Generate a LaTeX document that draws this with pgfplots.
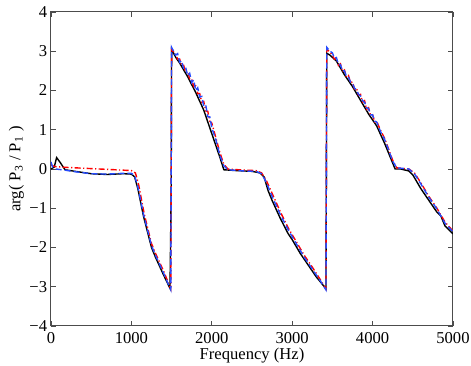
\documentclass[border=0pt]{standalone}
\usepackage{fontspec}
\setmainfont{Liberation Serif}
\usepackage{pgfplots}
\pgfplotsset{compat=1.18}
\definecolor{mblue}{rgb}{0.15,0.3,1}
\definecolor{axgray}{gray}{0.3}

\begin{document}
\fontsize{8.3}{10}\selectfont
\begin{tikzpicture}
\begin{axis}[
  name=ax,
  scale only axis,
  width=201pt, height=157pt,
  xmin=0, xmax=5000, ymin=-4, ymax=4,
  xtick={0,1000,2000,3000,4000,5000},
  xticklabels={0,1000,2000,3000,4000,5000},
  ytick={-4,-3,-2,-1,0,1,2,3,4},
  yticklabels={−4,−3,−2,−1,0,1,2,3,4},
  scaled x ticks=false,
  tick align=inside,
  tick pos=both,
  major tick length=2.5pt,
  axis line style={axgray, line width=0.5pt},
  every tick/.style={axgray, line width=0.4pt},
  tick label style={font=\fontsize{8.3}{10}\selectfont},
  xticklabel style={yshift=-0.5pt},
  yticklabel style={xshift=1pt},
  xlabel={Frequency (Hz)},
  ylabel={arg( P\textsubscript{3} / P\textsubscript{1} )},
  label style={font=\fontsize{8.3}{10}\selectfont},
  xlabel style={yshift=4pt},
  ylabel style={yshift=-3pt},
]
% black solid
\addplot[black, line width=0.7pt] coordinates {
(0,0.0)(40,0.05)(70,0.29)(120,0.15)(175,-0.02)(300,-0.06)(500,-0.12)(700,-0.14)
(900,-0.12)(1000,-0.13)(1040,-0.2)(1080,-0.5)(1150,-1.2)(1250,-2.0)(1300,-2.25)
(1400,-2.7)(1480,-3.04)(1488,-1.75)(1495,-0.5)(1500,3.05)(1550,2.85)(1600,2.7)
(1700,2.35)(1800,1.95)(1900,1.5)(2000,0.9)(2050,0.6)(2100,0.3)(2150,-0.02)
(2300,-0.04)(2500,-0.06)(2600,-0.1)(2650,-0.2)(2700,-0.55)(2750,-0.8)(2850,-1.25)
(2950,-1.65)(3000,-1.8)(3100,-2.15)(3200,-2.45)(3300,-2.75)(3420,-3.05)(3430,2.95)
(3470,2.9)(3550,2.75)(3650,2.4)(3750,2.1)(3850,1.75)(3950,1.4)(4050,1.1)(4150,0.65)
(4200,0.4)(4280,0.0)(4350,0.0)(4450,-0.05)(4500,-0.15)(4600,-0.5)(4700,-0.8)
(4800,-1.1)(4850,-1.2)(4900,-1.45)(4950,-1.55)(5000,-1.65)
};
% red dash-dot
\addplot[red, line width=0.7pt, dash pattern=on 3pt off 1.2pt on 0.6pt off 1.2pt] coordinates {
(0,0.1)(50,0.06)(200,0.04)(400,0.02)(600,0.0)(800,-0.02)(1000,-0.04)(1050,-0.1)
(1090,-0.4)(1160,-1.15)(1250,-1.9)(1300,-2.15)(1400,-2.6)(1490,-3.05)(1500,3.05)
(1550,2.92)(1575,2.8)(1600,2.8)(1625,2.64)(1650,2.64)(1675,2.46)(1700,2.48)
(1725,2.3)(1750,2.3)(1775,2.1)(1800,2.12)(1825,1.92)(1850,1.92)(1875,1.7)
(1900,1.72)(1925,1.48)(1950,1.47)(1975,1.22)(2000,1.17)(2050,0.8)(2100,0.42)
(2150,0.12)(2200,0.0)(2400,-0.03)(2550,-0.04)(2620,-0.1)(2680,-0.3)(2750,-0.62)
(2850,-1.08)(2950,-1.5)(3050,-1.85)(3150,-2.2)(3250,-2.5)(3350,-2.82)(3420,-3.05)
(3430,3.05)(3470,2.98)(3500,2.9)(3525,2.8)(3550,2.82)(3575,2.64)(3600,2.68)
(3625,2.48)(3650,2.52)(3675,2.34)(3700,2.38)(3725,2.2)(3750,2.22)(3775,2.04)
(3800,2.06)(3825,1.88)(3850,1.9)(3875,1.7)(3900,1.74)(3925,1.52)(3950,1.56)
(3975,1.36)(4000,1.38)(4025,1.2)(4050,1.22)(4100,0.98)(4150,0.78)(4200,0.5)
(4250,0.22)(4300,0.03)(4450,0.0)(4520,-0.1)(4600,-0.35)(4700,-0.7)(4800,-1.0)
(4900,-1.35)(5000,-1.58)
};
% blue dashed
\addplot[mblue, line width=0.7pt, dash pattern=on 3pt off 1.5pt] coordinates {
(0,0.18)(20,0.05)(60,0.0)(175,-0.03)(300,-0.07)(500,-0.12)(700,-0.13)(900,-0.11)
(1000,-0.11)(1040,-0.17)(1080,-0.45)(1150,-1.15)(1250,-1.95)(1300,-2.2)(1400,-2.65)
(1490,-3.08)(1500,3.1)(1550,2.9)(1575,2.94)(1600,2.72)(1625,2.76)(1650,2.55)
(1675,2.59)(1700,2.38)(1725,2.44)(1750,2.2)(1775,2.27)(1800,2.0)(1825,2.07)
(1850,1.83)(1875,1.85)(1900,1.6)(1925,1.63)(1950,1.33)(1975,1.33)(2000,1.05)
(2050,0.75)(2100,0.35)(2150,0.08)(2200,-0.02)(2400,-0.05)(2550,-0.06)(2620,-0.12)
(2680,-0.35)(2750,-0.7)(2850,-1.15)(2950,-1.55)(3050,-1.9)(3150,-2.25)(3250,-2.55)
(3350,-2.85)(3420,-3.08)(3430,3.1)(3470,3.0)(3500,2.96)(3525,2.82)(3550,2.84)
(3575,2.66)(3600,2.66)(3625,2.5)(3650,2.5)(3675,2.36)(3700,2.34)(3725,2.22)
(3750,2.18)(3775,2.06)(3800,2.02)(3825,1.9)(3850,1.86)(3875,1.74)(3900,1.7)
(3925,1.56)(3950,1.54)(3975,1.38)(4000,1.38)(4025,1.22)(4050,1.2)(4100,0.95)
(4150,0.75)(4200,0.48)(4250,0.2)(4300,0.03)(4450,0.0)(4520,-0.12)(4600,-0.38)
(4700,-0.72)(4800,-1.02)(4900,-1.38)(5000,-1.6)
};
\end{axis}
\pgfresetboundingbox
\path (ax.south west)++(-25.5pt,-20pt) rectangle ([xshift=9pt,yshift=6pt]ax.north east);
\end{tikzpicture}
\end{document}
